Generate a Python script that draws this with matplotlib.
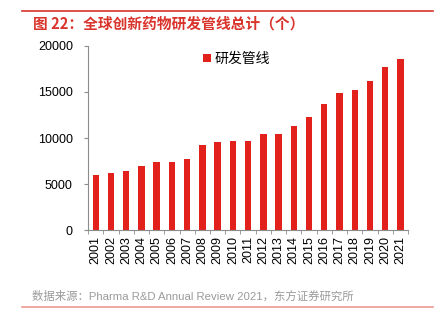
import matplotlib.pyplot as plt
from matplotlib.lines import Line2D

plt.rcParams['font.family'] = ['Liberation Sans', 'Noto Sans CJK SC']

# 全球创新药物研发管线数量
years = [str(y) for y in range(2001, 2022)]
pipeline = [5995, 6198, 6416, 6994, 7360, 7406, 7737, 9217, 9605, 9737, 9713,
            10452, 10479, 11307, 12300, 13718, 14872, 15267, 16181, 17737, 18582]
yticks = [0, 5000, 10000, 15000, 20000]

red = '#E2211C'
grey = '#8C8C8C'

fig = plt.figure(figsize=(4.45, 3.21), dpi=100)
ax = fig.add_axes([0.198, 0.2826, 0.719, 0.5744])

ax.bar(range(len(years)), pipeline, width=0.42, color=red, label='研发管线')
ax.set_xlim(-0.5, len(years) - 0.5)
ax.set_ylim(0, 20000)
ax.set_yticks(yticks)
ax.set_yticklabels([str(v) for v in yticks], fontsize=9)
ax.set_xticks(range(len(years)))
ax.set_xticklabels(years, rotation=90, fontsize=9)
ax.tick_params(axis='x', length=0, pad=4)
ax.set_xticks([i + 0.5 for i in range(-1, len(years))], minor=True)
ax.tick_params(axis='x', which='minor', length=3, color=grey)
ax.tick_params(axis='y', length=3, color=grey, pad=8)

for s in ['top', 'right']:
    ax.spines[s].set_visible(False)
for s in ['left', 'bottom']:
    ax.spines[s].set_color(grey)
    ax.spines[s].set_linewidth(0.8)

ax.legend(loc='upper left', bbox_to_anchor=(0.32, 1.035), frameon=False,
          handlelength=0.55, handleheight=0.55, handletextpad=0.25,
          prop={'family': 'Noto Sans CJK SC', 'size': 10})

# 标题和来源
fig.add_artist(Line2D([22 / 445, 433 / 445], [1 - 11 / 321, 1 - 11 / 321],
                      color='#D9342B', lw=1.2))
fig.text(33 / 445, 1 - 24 / 321, '图 22：全球创新药物研发管线总计（个）',
         fontsize=10.6, fontweight='bold', color='#D9342B',
         family='Noto Sans CJK SC', va='center')
fig.text(32 / 445, 1 - 296 / 321,
         '数据来源：Pharma R&D Annual Review 2021，东方证券研究所',
         fontsize=8.2, color='#9A9A9A', family=['Liberation Sans', 'Noto Sans CJK SC'],
         va='center')
fig.add_artist(Line2D([22 / 445, 433 / 445], [1 - 306.5 / 321, 1 - 306.5 / 321],
                      color='#EE9A95', lw=1.2))

fig.savefig('out.png', dpi=100)
